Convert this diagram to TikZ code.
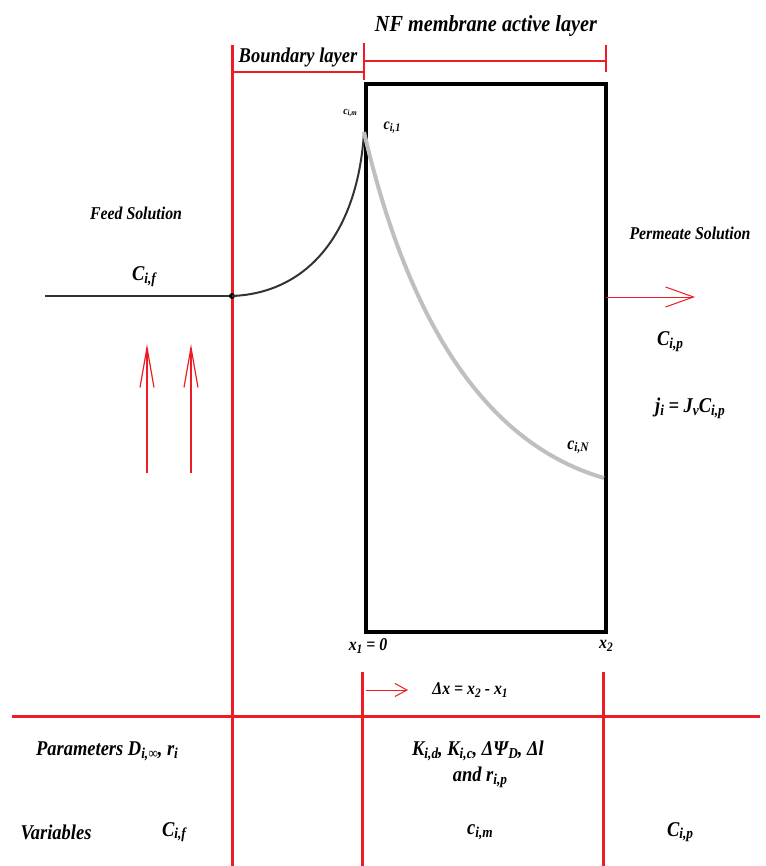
\documentclass[tikz,border=0pt]{standalone}
\usepackage{fontspec}
\setmainfont[FakeStretch=0.88]{Liberation Serif}
\usetikzlibrary{arrows.meta}
\definecolor{myred}{HTML}{EE1C24}
\newcommand{\sbs}[1]{\textsubscript{\fontsize{0.8\dimexpr\f@size pt\relax}{1em}\selectfont #1}}
\makeatletter
\renewcommand{\sbs}[1]{\raisebox{-0.28ex}{\fontsize{\dimexpr 0.72\dimexpr\f@size pt\relax\relax}{1em}\selectfont #1}}
\makeatother
\tikzset{
  thickred/.style={draw=myred, line width=3pt},
  thinred/.style={draw=myred, line width=1.2pt},
  openarrow/.style={draw=myred, line width=1pt},
  lbl/.style={inner sep=0pt, font=\bfseries\itshape\fontsize{21}{24}\selectfont},
  slbl/.style={inner sep=0pt, font=\bfseries\itshape\fontsize{18}{20}\selectfont},
  tlbl/.style={inner sep=0pt, font=\bfseries\itshape\fontsize{11}{12}\selectfont},
}
\begin{document}
\begin{tikzpicture}[x=1pt,y=-1pt]
\useasboundingbox (0,0) rectangle (765,866);
% coordinates
\coordinate (bl) at (232,45);
\coordinate (blb) at (232,866);
\coordinate (feedL) at (45,296);
\coordinate (feedR) at (232,296);
\coordinate (peak) at (364,132);
\coordinate (endN) at (604,478);
% main red verticals
\draw[thickred] (bl) -- (blb);
\coordinate (v2t) at (362,672); \coordinate (v2b) at (362,866);
\coordinate (v3t) at (603,672); \coordinate (v3b) at (603,866);
\draw[thickred] (v2t) -- (v2b);
\draw[thickred] (v3t) -- (v3b);
% bottom horizontal
\coordinate (hL) at (12,716); \coordinate (hR) at (760,716);
\draw[thickred] (hL) -- (hR);
% dimension lines
\coordinate (t1a) at (364,43); \coordinate (t1b) at (364,80);
\coordinate (t2a) at (606,45); \coordinate (t2b) at (606,72);
\draw[thinred] (t1a) -- (t1b);
\draw[thinred] (t2a) -- (t2b);
\coordinate (d1a) at (232,72); \coordinate (d1b) at (364,72);
\coordinate (d2a) at (364,61); \coordinate (d2b) at (606,61);
\draw[thinred] (d1a) -- (d1b);
\draw[thinred] (d2a) -- (d2b);
% membrane rectangle
\node[draw=black, line width=4pt, minimum width=240pt, minimum height=548pt, inner sep=0pt, anchor=north west] (mem) at (364,82) {};
% feed line and curves
\draw[line width=2pt, black!80] (feedL) -- (feedR);
\fill[black] (feedR) circle (3pt);
\draw[line width=2pt, black!80] (feedR) .. controls (310,293) and (358,230) .. (peak);
\draw[line width=4pt, black!25] (peak) .. controls (410,330) and (490,445) .. (endN);
% red arrows
\coordinate (pa) at (606,297); \coordinate (pb) at (695,297);
\draw[openarrow, -{Straight Barb[length=28pt,width=20pt,line width=1pt]}] (pa) -- (pb);
\coordinate (u1a) at (147,473); \coordinate (u1b) at (147,344);
\coordinate (u2a) at (191,473); \coordinate (u2b) at (191,344);
\draw[openarrow, line width=1.2pt, -{Straight Barb[length=40pt,width=14pt,line width=1.2pt]}] (u1a) -- (u1b);
\draw[openarrow, line width=1.2pt, -{Straight Barb[length=40pt,width=14pt,line width=1.2pt]}] (u2a) -- (u2b);
\coordinate (xa) at (366,690); \coordinate (xb) at (408,690);
\draw[openarrow, -{Straight Barb[length=12pt,width=13pt,line width=1pt]}] (xa) -- (xb);
% labels
\node[lbl, font=\bfseries\itshape\fontsize{23}{25}\selectfont] (nf) at (486,26) {NF membrane active layer};
\node[lbl, font=\bfseries\itshape\fontsize{21}{23}\selectfont] (bnd) at (298,57) {Boundary layer};
\node[tlbl] (cim) at (350,113) {c\sbs{i,m}};
\node[slbl, font=\bfseries\itshape\fontsize{16}{18}\selectfont] (ci1) at (392,128) {c\sbs{i,1}};
\node[slbl] (feed) at (136,213) {Feed Solution};
\node[lbl] (cif) at (144,277) {C\sbs{i,f}};
\node[slbl] (perm) at (690,233) {Permeate Solution};
\node[lbl] (cip) at (670,342) {C\sbs{i,p}};
\node[lbl] (ji) at (690,408) {j\sbs{i} = J\sbs{v}C\sbs{i,p}};
\node[slbl] (ciN) at (578,447) {c\sbs{i,N}};
\node[slbl] (x1) at (368,646) {x\sbs{1} = 0};
\node[slbl] (x2) at (606,646) {x\sbs{2}};
\node[slbl] (dx) at (470,690) {Δx = x\sbs{2} - x\sbs{1}};
\node[lbl] (par) at (107,751) {Parameters D\sbs{i,∞}, r\sbs{i}};
\node[lbl] (kpar) at (478,751) {K\sbs{i,d}, K\sbs{i,c}, ΔΨ\sbs{D}, Δl};
\node[lbl] (kpar2) at (480,777) {and r\sbs{i,p}};
\node[lbl] (var) at (56,832) {Variables};
\node[lbl] (vcif) at (174,832) {C\sbs{i,f}};
\node[lbl] (vcim) at (480,832) {c\sbs{i,m}};
\node[lbl] (vcip) at (680,832) {C\sbs{i,p}};
\end{tikzpicture}
\end{document}
